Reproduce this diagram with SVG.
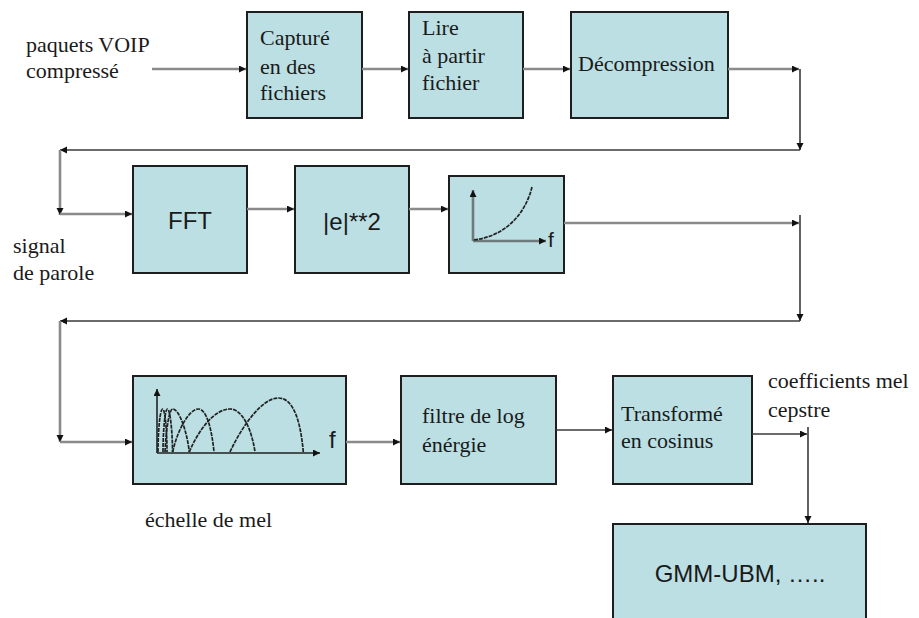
<svg xmlns="http://www.w3.org/2000/svg" width="919" height="618" viewBox="0 0 919 618">
  <style>
    .box { fill: #bbdfe3; stroke: #1e1e1e; stroke-width: 2; }
    .serif { font-family: 'Liberation Serif', 'DejaVu Serif', serif; font-size: 22px; fill: #1a1a1a; }
    .sans { font-family: 'Liberation Sans', Arial, sans-serif; fill: #1a1a1a; }
    .wire { fill: none; stroke: #3a3a3a; stroke-width: 1.6; }
    .wire-g { fill: none; stroke: #8a8a8a; stroke-width: 2.6; }
    .axis { fill: none; stroke: #222; stroke-width: 1.6; }
    .axis-g { fill: none; stroke: #6e7a7c; stroke-width: 2.6; }
    .band { fill: none; stroke: #222; stroke-width: 1.7; stroke-dasharray: 4 1; }
  </style>
  <defs>
    <marker id="arrow" markerUnits="userSpaceOnUse" markerWidth="8" markerHeight="8" refX="7" refY="3.5" orient="auto">
      <path d="M0,0 L7,3.5 L0,7 z" fill="#111"/>
    </marker>
  </defs>

  <rect width="919" height="618" fill="#ffffff"/>

  <!-- free labels -->
  <g id="label-input" font-family="Liberation Serif, serif">
    <text class="serif" x="26" y="52">paquets VOIP</text>
    <text class="serif" x="26" y="78">compressé</text>
  </g>
  <g id="label-signal">
    <text class="serif" x="13" y="253">signal</text>
    <text class="serif" x="13" y="280">de parole</text>
  </g>
  <g id="label-mel">
    <text class="serif" x="145" y="527">échelle de mel</text>
  </g>
  <g id="label-mfcc">
    <text class="serif" x="768" y="388">coefficients mel</text>
    <text class="serif" x="768" y="417">cepstre</text>
  </g>

  <!-- row 1 -->
  <g id="capture">
    <rect class="box" x="247" y="12" width="115" height="106"/>
    <text class="serif" x="260" y="45">Capturé</text>
    <text class="serif" x="260" y="74">en des</text>
    <text class="serif" x="260" y="100">fichiers</text>
  </g>
  <g id="lire">
    <rect class="box" x="409" y="12" width="114" height="106"/>
    <text class="serif" x="422" y="35">Lire</text>
    <text class="serif" x="422" y="63">à partir</text>
    <text class="serif" x="422" y="90">fichier</text>
  </g>
  <g id="decompression">
    <rect class="box" x="571" y="12" width="157" height="106"/>
    <text class="serif" x="578" y="71">Décompression</text>
  </g>

  <!-- row 2 -->
  <g id="fft">
    <rect class="box" x="133" y="166" width="114" height="107"/>
    <text class="sans" x="190" y="229" font-size="24" text-anchor="middle">FFT</text>
  </g>
  <g id="power">
    <rect class="box" x="295" y="166" width="114" height="107"/>
    <text class="sans" x="352" y="230" font-size="24" text-anchor="middle">|e|**2</text>
  </g>
  <g id="preemphasis">
    <rect class="box" x="449" y="176" width="115" height="97"/>
    <path class="axis-g" d="M473 241 V190" marker-end="url(#arrow)"/>
    <path class="axis-g" d="M473 241 H546" marker-end="url(#arrow)"/>
    <path class="band" d="M474 240 C505 236 525 215 532 187"/>
    <text class="sans" x="548" y="247" font-size="21">f</text>
  </g>

  <!-- row 3 -->
  <g id="mel-bank">
    <rect class="box" x="133" y="376" width="213" height="108"/>
    <path class="axis" d="M157 453 V389" marker-end="url(#arrow)"/>
    <path class="axis" d="M157 453 H320" marker-end="url(#arrow)"/>
    <path class="band" d="M158 452 C158 431 160 409 162.7 409 C165 409 167 431 167 452"/>
    <path class="band" d="M163 452 C163 431 165 409 167.5 409 C170 409 172.5 431 172.5 452"/>
    <path class="band" d="M165 452 C166 431 169 409 172.7 409 C179 409 187 431 189.3 452"/>
    <path class="band" d="M172.7 452 C177 431 189 409 198.3 409 C207 409 212 431 214 452"/>
    <path class="band" d="M189.3 452 C198 431 214 409 230 409 C243 409 252 431 255 452"/>
    <path class="band" d="M230 452 C242 426 262 398 278.3 398 C295 398 301 426 303.3 452"/>
    <text class="sans" x="329" y="448" font-size="24">f</text>
  </g>
  <g id="log-energy">
    <rect class="box" x="401" y="376" width="155" height="108"/>
    <text class="serif" x="422" y="423">filtre de log</text>
    <text class="serif" x="422" y="452">énérgie</text>
  </g>
  <g id="dct">
    <rect class="box" x="613" y="376" width="139" height="108"/>
    <text class="serif" x="621" y="421">Transformé</text>
    <text class="serif" x="621" y="448">en cosinus</text>
  </g>
  <g id="classifier">
    <rect class="box" x="613" y="524" width="253" height="120"/>
    <text class="sans" x="740" y="582" font-size="24" text-anchor="middle">GMM-UBM, …..</text>
  </g>

  <!-- connectors -->
  <g id="connectors">
    <path class="wire-g" d="M152 69 H246" marker-end="url(#arrow)"/>
    <path class="wire-g" d="M362 69 H408" marker-end="url(#arrow)"/>
    <path class="wire-g" d="M523 69 H570" marker-end="url(#arrow)"/>
    <path class="wire-g" d="M728 69 H799" marker-end="url(#arrow)"/>
    <path class="wire" d="M800 69 V150" marker-end="url(#arrow)"/>
    <path class="wire" d="M800 150 H60" marker-end="url(#arrow)"/>
    <path class="wire-g" d="M60 150 V215" marker-end="url(#arrow)"/>
    <path class="wire-g" d="M60 214 H132" marker-end="url(#arrow)"/>

    <path class="wire-g" d="M247 209 H294" marker-end="url(#arrow)"/>
    <path class="wire-g" d="M409 209 H448" marker-end="url(#arrow)"/>
    <path class="wire-g" d="M564 223 H799" marker-end="url(#arrow)"/>
    <path class="wire" d="M800 215 V321" marker-end="url(#arrow)"/>
    <path class="wire" d="M800 321 H60" marker-end="url(#arrow)"/>
    <path class="wire-g" d="M60 321 V442" marker-end="url(#arrow)"/>
    <path class="wire-g" d="M60 442 H132" marker-end="url(#arrow)"/>

    <path class="wire-g" d="M346 442 H400" marker-end="url(#arrow)"/>
    <path class="wire" d="M556 430 H612" marker-end="url(#arrow)"/>
    <path class="wire" d="M752 434 H807" marker-end="url(#arrow)"/>
    <path class="wire" d="M808 427 V523" marker-end="url(#arrow)"/>
  </g>
</svg>
